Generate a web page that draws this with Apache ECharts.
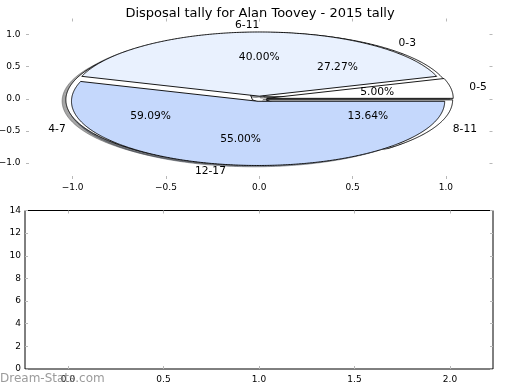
<!DOCTYPE html>
<html><head><meta charset="utf-8">
<script src="https://cdn.jsdelivr.net/npm/echarts@6/dist/echarts.min.js"></script>
<style>html,body{margin:0;padding:0;background:#fff}#c{width:520px;height:390px}</style>
</head><body><div id="c"></div>
<script>
// ---- data ----
const titleText = 'Disposal tally for Alan Toovey - 2015 tally';
const pieALabels = ['0-5', '6-11', '12-17'];
const pieAValues = [5.00, 40.00, 55.00];
const pieBLabels = ['0-3', '4-7', '8-11'];
const pieBValues = [27.27, 59.09, 13.64];
const pieTicks = [-1.0, -0.5, 0.0, 0.5, 1.0];
const lowerXTicks = [0.0, 0.5, 1.0, 1.5, 2.0];
const lowerYTicks = [0, 2, 4, 6, 8, 10, 12, 14];
const watermark = 'Dream-Stats.com';

// ---- style ----
const pieAColors = ['#ffffff', '#e9f1fe', '#c5d8fc'];
const pieBColors = ['#ffffff', '#ffffff', '#ffffff'];
const EXPLODE = 0.04;
const FONT = 'DejaVu Sans';
const TICKC = '#b8b8b8';
const PIEFONT = '10.7px "' + FONT + '"';

function slices(values) {
  const total = values.reduce((a, b) => a + b, 0);
  let acc = 0;
  return values.map(v => { const s = acc; acc += v; return { t1: s / total * 2 * Math.PI, t2: acc / total * 2 * Math.PI }; });
}
function darker(hex) {
  const n = parseInt(hex.slice(1), 16);
  const r = Math.round(((n >> 16) & 255) * 0.3), g = Math.round(((n >> 8) & 255) * 0.3), b = Math.round((n & 255) * 0.3);
  return 'rgba(' + r + ',' + g + ',' + b + ',0.5)';
}
function wedgeSeries(values, colors, shadow, z) {
  const sl = slices(values);
  return {
    type: 'custom', xAxisIndex: 0, yAxisIndex: 0, z: z, silent: true, clip: false,
    data: values.map((v, i) => [i, v]),
    encode: { x: -1, y: -1 },
    renderItem: function (params, api) {
      const i = params.dataIndex;
      const t1 = sl[i].t1, t2 = sl[i].t2, tm = (t1 + t2) / 2;
      let cx = EXPLODE * Math.cos(tm), cy = EXPLODE * Math.sin(tm);
      if (shadow) { cx -= 0.02; cy -= 0.02; }
      const pts = [api.coord([cx, cy])];
      const n = Math.max(2, Math.ceil((t2 - t1) / (Math.PI / 360)));
      for (let k = 0; k <= n; k++) {
        const t = t1 + (t2 - t1) * k / n;
        pts.push(api.coord([cx + Math.cos(t), cy + Math.sin(t)]));
      }
      const style = shadow
        ? { fill: darker(colors[i]), stroke: darker(colors[i]), lineWidth: 1 }
        : { fill: colors[i], stroke: '#000', lineWidth: 0.9 };
      return { type: 'polygon', shape: { points: pts }, style: style };
    }
  };
}
function labelSeries(values, labels, z) {
  const sl = slices(values);
  return {
    type: 'custom', xAxisIndex: 0, yAxisIndex: 0, z: z, silent: true, clip: false,
    data: values.map((v, i) => [i, v]),
    encode: { x: -1, y: -1 },
    renderItem: function (params, api) {
      const i = params.dataIndex;
      const tm = (sl[i].t1 + sl[i].t2) / 2;
      const cx = EXPLODE * Math.cos(tm), cy = EXPLODE * Math.sin(tm);
      const lx = cx + 1.1 * Math.cos(tm), ly = cy + 1.1 * Math.sin(tm);
      const px = cx + 0.6 * Math.cos(tm), py = cy + 0.6 * Math.sin(tm);
      const p1 = api.coord([lx, ly]), p2 = api.coord([px, py]);
      return { type: 'group', children: [
        { type: 'text', x: p1[0], y: p1[1], style: { text: labels[i], fill: '#000', font: PIEFONT, align: lx > 1e-9 ? 'left' : 'right', verticalAlign: 'middle' } },
        { type: 'text', x: p2[0], y: p2[1], style: { text: values[i].toFixed(2) + '%', fill: '#000', font: PIEFONT, align: 'center', verticalAlign: 'middle' } }
      ] };
    }
  };
}
const fmt1 = v => (v < 0 ? '\u2212' : '') + Math.abs(v).toFixed(1);
const lbl = { color: '#000', fontSize: 9, fontFamily: FONT };

function axisPair(gridIndex, min, max, ticks, formatter, margin, primaryPos, mirrorPos) {
  const base = {
    gridIndex: gridIndex, type: 'value', min: min, max: max,
    axisLine: { show: false, onZero: false }, splitLine: { show: false },
    axisTick: { show: true, inside: true, length: 3, customValues: ticks, lineStyle: { color: TICKC, width: 1 } }
  };
  return [
    Object.assign({}, base, { position: primaryPos, axisLabel: Object.assign({ show: true, customValues: ticks, formatter: formatter, margin: margin }, lbl) }),
    Object.assign({}, base, { position: mirrorPos, axisLabel: { show: false } })
  ];
}

const chart = echarts.init(document.getElementById('c'), null, { renderer: 'canvas' });
chart.setOption({
  animation: false,
  backgroundColor: '#fff',
  title: { text: titleText, left: 'center', top: 2, textStyle: { fontSize: 13, fontWeight: 'normal', color: '#000', fontFamily: FONT } },
  grid: [
    { left: 26, top: 18.5, width: 466.5, height: 160.5, show: false, containLabel: false, outerBoundsMode: 'none' },
    { left: 25, top: 210.5, width: 468, height: 158.5, show: true, borderColor: '#000', borderWidth: 1, backgroundColor: 'transparent', containLabel: false, outerBoundsMode: 'none' }
  ],
  xAxis: [].concat(
    axisPair(0, -1.25, 1.25, pieTicks, fmt1, 4, 'bottom', 'top'),
    axisPair(1, -0.225, 2.225, lowerXTicks, fmt1, 6, 'bottom', 'top')
  ),
  yAxis: [].concat(
    axisPair(0, -1.25, 1.25, pieTicks, fmt1, 5.5, 'left', 'right'),
    axisPair(1, 0, 14, lowerYTicks, v => String(v), 4, 'left', 'right')
  ),
  series: [
    wedgeSeries(pieBValues, pieBColors, true, 1),
    wedgeSeries(pieAValues, pieAColors, true, 1),
    wedgeSeries(pieBValues, pieBColors, false, 2),
    wedgeSeries(pieAValues, pieAColors, false, 3),
    labelSeries(pieBValues, pieBLabels, 4),
    labelSeries(pieAValues, pieALabels, 4)
  ],
  graphic: [
    { type: 'text', left: 0, top: 373, z: 100, style: { text: watermark, fill: 'rgba(130,130,130,0.8)', font: '12px "' + FONT + '"' } }
  ]
});
</script>
</body></html>
